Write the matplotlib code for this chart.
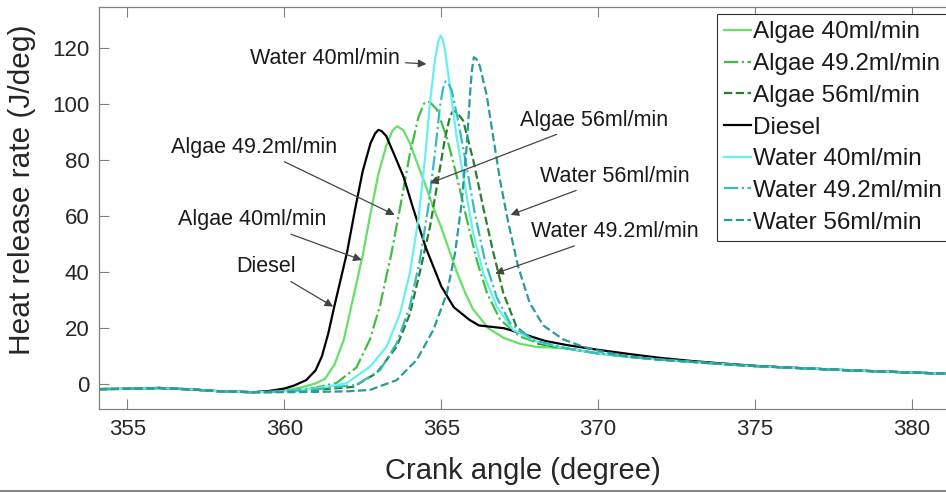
import matplotlib
matplotlib.use("Agg")
import matplotlib.pyplot as plt
from matplotlib.lines import Line2D

plt.rcParams["font.family"] = ["Liberation Sans", "DejaVu Sans"]

# baseline shared by every run before ignition (crank angle, HRR)
base_ca = [354.1, 355.0, 356.0, 357.0, 358.0, 359.0]
base_hrr = [-1.7, -1.6, -1.3, -1.8, -2.5, -2.8]

# common late-combustion tail
tail_ca = [369.0, 370.0, 371.0, 372.0, 373.0, 374.0, 375.0, 376.0, 377.0, 378.0, 379.0, 380.0, 381.1]
tail_hrr = [12.8, 11.0, 9.8, 8.8, 8.0, 7.2, 6.5, 6.0, 5.5, 5.0, 4.6, 4.2, 3.8]

diesel_ca = [359.5, 360.0, 360.3, 360.7, 361.0, 361.2, 361.4, 361.6, 362.0, 362.25, 362.5, 362.75,
             362.9, 363.0, 363.1, 363.25, 363.5, 363.8, 364.1, 364.5, 365.0, 365.4, 365.9, 366.2,
             366.6, 367.0, 367.6, 368.3]
diesel_hrr = [-2.4, -1.5, -0.5, 1.5, 5.0, 10.0, 18.0, 28.0, 47.0, 62.0, 76.0, 86.0,
              89.5, 90.7, 90.3, 88.5, 82.0, 74.0, 63.0, 49.0, 35.0, 27.5, 23.0, 21.0,
              20.5, 20.0, 18.0, 15.5]
diesel_tail = [14.0, 12.3, 10.8, 9.4, 8.3, 7.4, 6.6, 6.0, 5.5, 5.0, 4.6, 4.2, 3.8]

algae40_ca = [359.5, 360.0, 360.5, 361.0, 361.3, 361.6, 361.9, 362.1, 362.5, 362.75, 363.0, 363.25,
              363.45, 363.6, 363.8, 364.0, 364.2, 364.5, 364.75, 365.0, 365.25, 365.5, 365.75,
              366.0, 366.5, 367.0, 367.5, 368.0]
algae40_hrr = [-2.6, -2.2, -1.2, 0.3, 2.0, 7.0, 16.0, 26.0, 46.0, 61.0, 75.0, 85.0,
               90.5, 92.0, 90.5, 86.0, 80.0, 71.0, 63.0, 56.0, 48.0, 40.0, 33.0,
               27.0, 20.0, 16.5, 14.5, 13.4]

algae49_ca = [359.5, 360.0, 361.0, 361.67, 362.3, 362.73, 363.05, 363.42, 363.69, 364.0, 364.27,
              364.45, 364.54, 364.65, 364.86, 365.18, 365.5, 365.82, 366.14, 366.46, 366.88,
              367.52, 368.3]
algae49_hrr = [-2.7, -2.4, -1.2, 0.5, 6.0, 16.0, 28.0, 47.0, 63.0, 82.0, 95.0,
               100.0, 100.8, 100.5, 98.0, 88.0, 74.0, 58.6, 44.0, 32.5, 23.0,
               17.0, 14.0]

algae56_ca = [359.5, 360.0, 361.0, 362.2, 362.94, 363.58, 364.0, 364.32, 364.64, 364.9, 365.11,
              365.28, 365.38, 365.5, 365.7, 366.02, 366.34, 366.66, 366.98, 367.4, 368.04]
algae56_hrr = [-2.8, -2.6, -2.0, -0.9, 4.0, 13.4, 25.0, 40.0, 56.0, 73.0, 87.0,
               95.5, 97.5, 97.0, 94.0, 80.0, 63.0, 47.0, 32.5, 20.5, 14.6]

water40_ca = [359.5, 360.0, 361.0, 361.99, 362.73, 363.26, 363.69, 364.0, 364.27, 364.48, 364.64,
              364.8, 364.9, 364.98, 365.05, 365.12, 365.28, 365.49, 365.76, 366.02, 366.34,
              366.77, 367.29, 368.04]
water40_hrr = [-2.7, -2.5, -1.5, 0.4, 6.3, 13.4, 25.3, 39.6, 58.6, 80.0, 100.0,
               115.6, 122.0, 124.3, 123.0, 119.2, 106.0, 88.3, 70.4, 53.8, 39.6,
               27.7, 19.4, 15.2]

water49_ca = [359.5, 360.0, 361.0, 362.3, 363.05, 363.58, 364.0, 364.32, 364.59, 364.8, 364.96,
              365.06, 365.14, 365.22, 365.33, 365.54, 365.81, 366.07, 366.39, 366.77, 367.2,
              367.93]
water49_hrr = [-2.7, -2.5, -1.8, -0.2, 5.0, 14.6, 27.7, 44.3, 63.3, 82.3, 99.0,
               105.5, 108.0, 107.5, 105.0, 94.0, 77.6, 61.0, 44.3, 31.0, 21.7,
               15.8]

water56_ca = [359.5, 360.0, 361.0, 362.0, 362.73, 363.58, 364.22, 364.75, 365.18, 365.44, 365.65,
              365.81, 365.92, 365.98, 366.04, 366.12, 366.23, 366.45, 366.66, 366.87, 367.13,
              367.45, 367.82, 368.25, 368.89, 369.5, 370.0]
water56_hrr = [-2.8, -2.8, -2.7, -2.5, -2.0, 1.5, 8.7, 19.4, 32.4, 46.7, 64.5,
               84.7, 103.7, 112.0, 116.6, 116.0, 113.5, 103.0, 88.0, 73.0, 58.0,
               42.0, 29.0, 21.0, 16.0, 13.5, 12.0]

labels = ["Algae 40ml/min", "Algae 49.2ml/min", "Algae 56ml/min", "Diesel",
          "Water 40ml/min", "Water 49.2ml/min", "Water 56ml/min"]
colors = ["#66e066", "#3fbf3f", "#2b7f2b", "#000000", "#66f0f0", "#36bcbc", "#2a9b9b"]
styles = ["-", "-.", "--", "-", "-", "-.", "--"]


def join(ca, hrr, t_ca=tail_ca, t_hrr=tail_hrr):
    x = base_ca + ca
    y = base_hrr + hrr
    last = ca[-1]
    for a, b in zip(t_ca, t_hrr):
        if a > last:
            x.append(a)
            y.append(b)
    return x, y


series = [
    join(algae40_ca, algae40_hrr),
    join(algae49_ca, algae49_hrr),
    join(algae56_ca, algae56_hrr),
    join(diesel_ca, diesel_hrr, tail_ca, diesel_tail),
    join(water40_ca, water40_hrr),
    join(water49_ca, water49_hrr),
    join(water56_ca, water56_hrr),
]

# annotation text, arrow tip, text position
notes = [
    ("Water 40ml/min", (364.53, 114.2), (363.69, 116.3), "right"),
    ("Algae 49.2ml/min", (363.52, 60.4), (359.05, 84.5), "center"),
    ("Algae 40ml/min", (362.47, 44.3), (358.97, 58.6), "center"),
    ("Diesel", (361.56, 27.7), (359.42, 41.9), "center"),
    ("Algae 56ml/min", (364.64, 71.7), (369.86, 94.2), "center"),
    ("Water 56ml/min", (367.21, 60.4), (370.52, 74.2), "center"),
    ("Water 49.2ml/min", (366.72, 39.5), (370.54, 54.4), "center"),
]

fig = plt.figure(figsize=(9.46, 4.93), dpi=100)
ax = fig.add_axes([99 / 946, (493 - 409.3) / 493, 1 - 99 / 946, 402 / 493])

for (x, y), lab, c, ls in zip(series, labels, colors, styles):
    ax.plot(x, y, color=c, linestyle=ls, linewidth=1.6, label=lab)

for txt, tip, pos, ha in notes:
    ax.annotate(txt, xy=tip, xytext=pos, ha=ha, va="center", fontsize=15.5, color="#1a1a1a",
                arrowprops=dict(arrowstyle="-|>", color="#444444", lw=0.9,
                                mutation_scale=12, shrinkA=2, shrinkB=0))

ax.set_xlim(354.1, 381.08)
ax.set_ylim(-8.9, 134.4)
ax.set_xticks([355, 360, 365, 370, 375, 380])
ax.set_yticks([0, 20, 40, 60, 80, 100, 120])
ax.tick_params(direction="in", top=True, right=False, length=7, width=0.8,
               color="#808080", labelsize=16, labelcolor="#262626", pad=7)
for side in ["left", "bottom", "top"]:
    ax.spines[side].set_color("#808080")
    ax.spines[side].set_linewidth(0.9)
ax.spines["right"].set_visible(False)

ax.set_xlabel("Crank angle (degree)", fontsize=21, color="#262626", labelpad=12)
ax.set_ylabel("Heat release rate (J/deg)", fontsize=21.5, color="#262626")
ax.yaxis.set_label_coords(-0.074, 0.547)

leg = ax.legend(loc="upper left", bbox_to_anchor=(717 / 946, 1 - 14 / 493),
                bbox_transform=fig.transFigure, fontsize=17.5, fancybox=False,
                framealpha=1, edgecolor="#333333", handlelength=1.1,
                handletextpad=0.08, labelspacing=0.4, borderpad=0.3, borderaxespad=0)
leg.get_frame().set_linewidth(0.8)
for t in leg.get_texts():
    t.set_color("#1a1a1a")

fig.add_artist(Line2D([0, 1], [0.004, 0.004], color="#888888", lw=1.5))

fig.savefig("out.png", dpi=100)
